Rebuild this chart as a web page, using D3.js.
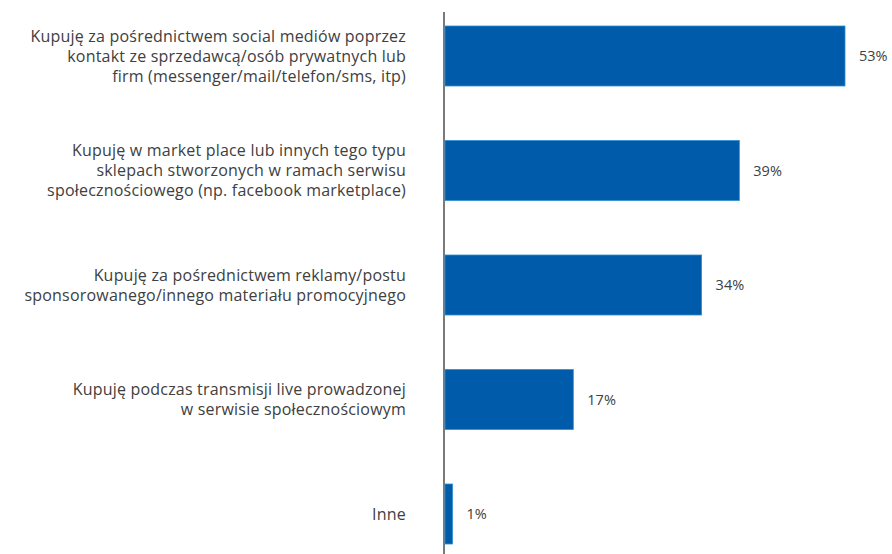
<!DOCTYPE html>
<html>
<head>
<meta charset="utf-8">
<script src="https://cdn.jsdelivr.net/npm/d3@7"></script>
<style>
  html, body { margin: 0; padding: 0; background: #fff; }
  svg { display: block; }
</style>
</head>
<body>
<svg id="chart" width="892" height="554"></svg>
<script>
// Answer categories, each split into the lines it is printed on
const categories = [
  ["Kupuję za pośrednictwem social mediów poprzez", "kontakt ze sprzedawcą/osób prywatnych lub", "firm (messenger/mail/telefon/sms, itp)"],
  ["Kupuję w market place lub innych tego typu", "sklepach stworzonych w ramach serwisu", "społecznościowego (np. facebook marketplace)"],
  ["Kupuję za pośrednictwem reklamy/postu", "sponsorowanego/innego materiału promocyjnego"],
  ["Kupuję podczas transmisji live prowadzonej", "w serwisie społecznościowym"],
  ["Inne"]
];
// Share of respondents, in percent
const values = [53, 39, 34, 17, 1];
const valueLabels = ["53%", "39%", "34%", "17%", "1%"];

const svg = d3.select("#chart");
const ids = categories.map((_, i) => i);

const y = d3.scaleBand()
  .domain(ids)
  .range([26, 544])
  .paddingInner(0.476)
  .paddingOuter(0);

const x = d3.scaleLinear()
  .domain([0, 53])
  .range([445, 845]);

const textColor = "#404040";
const font = "'Open Sans', 'Noto Sans', sans-serif";

// Vertical baseline
svg.append("line")
  .attr("x1", 444).attr("x2", 444)
  .attr("y1", 12).attr("y2", 554)
  .attr("stroke", "#7a7a7a")
  .attr("stroke-width", 2);

// Bars
svg.append("g")
  .selectAll("rect")
  .data(ids)
  .join("rect")
  .attr("x", x(0))
  .attr("y", i => y(i))
  .attr("width", i => x(values[i]) - x(0))
  .attr("height", y.bandwidth())
  .attr("fill", "#005bab")
  .attr("stroke", "#2f8fd0")
  .attr("stroke-width", 0.8);

// Value labels
svg.append("g")
  .selectAll("text")
  .data(ids)
  .join("text")
  .attr("x", i => x(values[i]) + 14)
  .attr("y", i => y(i) + y.bandwidth() / 2)
  .attr("dy", "0.35em")
  .attr("font-family", font)
  .attr("font-size", 14.5)
  .attr("fill", textColor)
  .text(i => valueLabels[i]);

// Category labels, right-aligned and centred on each bar
const lineH = 20;
const labels = svg.append("g")
  .selectAll("text")
  .data(ids)
  .join("text")
  .attr("text-anchor", "end")
  .attr("font-family", font)
  .attr("font-size", 16)
  .attr("letter-spacing", 0.2)
  .attr("fill", textColor);

labels.each(function(i) {
  const lines = categories[i];
  const cy = y(i) + y.bandwidth() / 2;
  const top = cy - (lines.length - 1) * lineH / 2;
  d3.select(this).selectAll("tspan")
    .data(lines)
    .join("tspan")
    .attr("x", 406)
    .attr("y", (_, k) => top + k * lineH)
    .attr("dy", "0.35em")
    .text(d => d);
});
</script>
</body>
</html>
